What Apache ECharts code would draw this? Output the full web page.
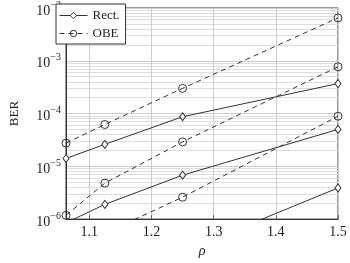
<!DOCTYPE html>
<html><head><meta charset="utf-8">
<script src="https://cdn.jsdelivr.net/npm/echarts@6/dist/echarts.min.js"></script>
<style>html,body{margin:0;padding:0;background:#fff}#c{width:350px;height:263px}</style>
</head><body><div id="c"></div>
<script>
const rho = [1.0625, 1.125, 1.25, 1.5];
const xTicks = [1.1, 1.2, 1.3, 1.4, 1.5];
const rect1 = [1.41e-5, 2.61e-5, 8.7e-5, 3.7e-4];
const rect2 = [8.5e-7, 1.9e-6, 6.8e-6, 5.0e-5];
const rect3 = [2e-8, 6e-8, 2.4e-7, 3.9e-6];
const obe1 = [2.75e-5, 6.2e-5, 3.0e-4, 6.5e-3];
const obe2 = [1.18e-6, 4.8e-6, 2.9e-5, 7.7e-4];
const obe3 = [1.5e-7, 5.4e-7, 2.6e-6, 8.9e-5];

const F = 'Liberation Serif, serif';
const col = '#333';
function pairs(v){ return rho.map((x,i)=>[x,v[i]]); }
function rect(v){ return {name:'Rect.', type:'line', data:pairs(v), symbol:'diamond', symbolSize:[6,8], showSymbol:true,
  itemStyle:{color:'#fff', borderColor:col, borderWidth:1}, lineStyle:{color:col, width:1}, clip:true, z:3}; }
function obe(v){ return {name:'OBE', type:'line', data:pairs(v), symbol:'circle', symbolSize:8,
  itemStyle:{color:'rgba(255,255,255,0)', borderColor:col, borderWidth:1}, lineStyle:{color:col, width:1, type:[5,4]}, clip:true, z:3}; }

const chart = echarts.init(document.getElementById('c'));
chart.setOption({
  animation:false,
  grid:{left:56, right:12, top:4, bottom:34, show:true, borderColor:'#333', borderWidth:1, backgroundColor:'transparent'},
  legend:{data:['Rect.','OBE'], orient:'vertical', left:56, top:4, backgroundColor:'#fff', borderColor:'#333', borderWidth:1,
    padding:[5,6,4,3], itemWidth:28, itemHeight:8, itemGap:5, textStyle:{fontFamily:F, fontSize:13, color:'#222'},
    lineStyle:{width:1}, itemStyle:{borderWidth:1}},
  xAxis:{type:'value', min:1.0625, max:1.5, name:'ρ', nameLocation:'middle', nameGap:23,
    nameTextStyle:{fontFamily:F, fontSize:14, fontStyle:'italic', color:'#222'},
    axisLine:{show:true, lineStyle:{color:'#333'}},
    axisTick:{show:true, inside:true, length:4, customValues:xTicks, lineStyle:{color:'#666'}},
    axisLabel:{customValues:xTicks, fontFamily:F, fontSize:14, color:'#222', margin:6},
    splitLine:{show:true, lineStyle:{color:'#ccc', width:1}}},
  yAxis:{type:'log', logBase:10, min:1e-6, max:1e-2, name:'BER', nameLocation:'middle', nameGap:45,
    nameTextStyle:{fontFamily:F, fontSize:13, color:'#222'},
    axisLine:{show:true, lineStyle:{color:'#333'}},
    axisTick:{show:false},
    axisLabel:{fontFamily:F, color:'#222', margin:5, formatter:function(v){ const e=Math.round(Math.log10(v)); return '{b|10}{s|'+(e<0?'−':'')+Math.abs(e)+'}'; },
      rich:{b:{fontFamily:F, fontSize:14, color:'#222', padding:[6,0,0,0]}, s:{fontFamily:F, fontSize:10, color:'#222', padding:[0,0,6,0]}}},
    splitLine:{show:true, lineStyle:{color:'#ccc', width:1}},
    minorTick:{show:false, splitNumber:9},
    minorSplitLine:{show:true, lineStyle:{color:'#ddd', width:1}}},
  series:[rect(rect1), obe(obe1), rect(rect2), obe(obe2), rect(rect3), obe(obe3)]
});
</script></body></html>
